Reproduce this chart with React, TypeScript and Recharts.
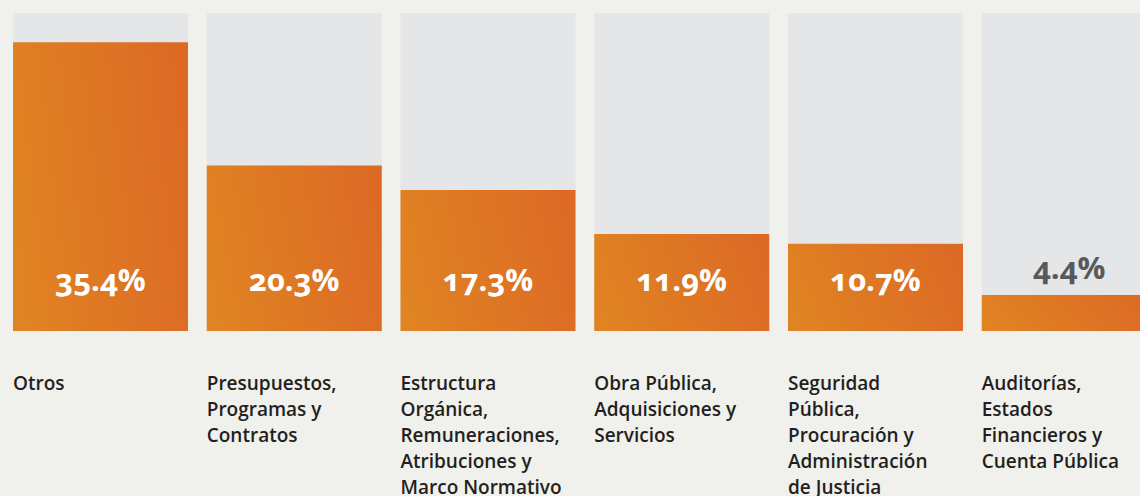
import { BarChart, Bar, XAxis, YAxis, LabelList } from 'recharts';

// Category labels, one entry per line
const categories = ['Otros', 'Presupuestos', 'Estructura', 'ObraPublica', 'Seguridad', 'Auditorias'];
const categoryLines = [
  ['Otros'],
  ['Presupuestos,', 'Programas y', 'Contratos'],
  ['Estructura', 'Orgánica,', 'Remuneraciones,', 'Atribuciones y', 'Marco Normativo'],
  ['Obra Pública,', 'Adquisiciones y', 'Servicios'],
  ['Seguridad', 'Pública,', 'Procuración y', 'Administración', 'de Justicia'],
  ['Auditorías,', 'Estados', 'Financieros y', 'Cuenta Pública'],
];
const shares = [35.4, 20.3, 17.3, 11.9, 10.7, 4.4];

const data = categories.map((c, i) => ({ key: c, value: shares[i], idx: i }));

const FONT = '"Open Sans", "DejaVu Sans", sans-serif';

const CategoryTick = (props: any) => {
  const { x, y, payload } = props;
  const lines = categoryLines[payload.index] || [];
  const left = x - 87.4;
  return (
    <text
      x={left}
      y={y}
      fill="#231f20"
      fontFamily={FONT}
      fontSize={19}
      fontWeight={600}
      textAnchor="start"
    >
      {lines.map((l, i) => (
        <tspan key={i} x={left} dy={i === 0 ? 51 : 26}>
          {l}
        </tspan>
      ))}
    </text>
  );
};

const ValueLabel = (props: any) => {
  const { x, y, width, height, value } = props;
  const inside = height > 60;
  return (
    <text
      x={x + width / 2}
      y={inside ? y + height - 40 : y - 16}
      fill={inside ? '#ffffff' : '#58595b'}
      fontFamily={FONT}
      fontSize={31}
      fontWeight={700}
      textAnchor="middle"
      style={{ fontVariantNumeric: 'oldstyle-nums' }}
    >
      {`${value.toFixed(1)}%`}
    </text>
  );
};

export default function App() {
  return (
    <div
      style={{
        position: 'absolute',
        left: 0,
        top: 0,
        width: 1140,
        height: 496,
        overflow: 'hidden',
        background: '#f0f0ec',
      }}
    >
      <BarChart
        width={1166}
        height={496}
        data={data}
        margin={{ top: 13, right: 0, left: 3.5, bottom: 0 }}
        barCategoryGap={9.5}
      >
        <defs>
          <linearGradient id="orangeGrad" x1="0" y1="0.6" x2="1" y2="0.4">
            <stop offset="0%" stopColor="#e08322" />
            <stop offset="100%" stopColor="#dc6a25" />
          </linearGradient>
        </defs>
        <XAxis
          dataKey="key"
          axisLine={false}
          tickLine={false}
          height={165}
          interval={0}
          tick={<CategoryTick />}
        />
        <YAxis hide domain={[0, 39]} />
        <Bar
          dataKey="value"
          fill="url(#orangeGrad)"
          background={{ fill: '#e5e6e8' }}
          isAnimationActive={false}
        >
          <LabelList dataKey="value" content={<ValueLabel />} />
        </Bar>
      </BarChart>
    </div>
  );
}
